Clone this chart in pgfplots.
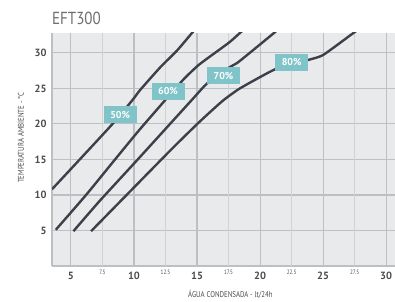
\documentclass[border=0pt]{standalone}
\usepackage{fontspec}
\setmainfont{PT Sans}
\newfontfamily\condfont[FakeStretch=0.82]{PT Sans}
\newfontfamily\titlefont[FakeStretch=0.86]{PT Sans}
\usepackage{pgfplots}
\pgfplotsset{compat=1.18}
\definecolor{bgc}{HTML}{E9EAEC}
\definecolor{gridmajor}{HTML}{BDBFC2}
\definecolor{gridminor}{HTML}{D0D2D4}
\definecolor{axc}{HTML}{BDBFC2}
\definecolor{tickc}{HTML}{4A4B4F}
\definecolor{curvec}{HTML}{3D404A}
\definecolor{labc}{HTML}{80C4C9}
\definecolor{titlec}{HTML}{6D6E71}
\begin{document}
\begin{tikzpicture}
\begin{axis}[
  scale only axis, width=343bp, height=233bp,
  xmin=3.5, xmax=30.7, ymin=0, ymax=32.8,
  axis background/.style={fill=bgc},
  axis x line*=bottom, axis y line*=left,
  axis line style={draw=axc, line width=1.3bp, -},
  xtick={5,10,15,20,25,30},
  xticklabels={5,10,15,20,25,30},
  extra x ticks={7.5,12.5,17.5,22.5,27.5},
  extra x tick labels={7.5,12.5,17.5,22.5,27.5},
  extra x tick style={grid style={draw=gridminor, line width=1bp},
     tick label style={font=\condfont\fontsize{6.3}{7}\selectfont, text=tickc, yshift=2.5bp}},
  ytick={5,10,15,20,25,30},
  yticklabels={5,10,15,20,25,30},
  grid=major, grid style={draw=gridmajor, line width=1.1bp},
  tick style={draw=none},
  major tick length=0pt,
  tick label style={font=\bfseries\fontsize{10.5}{12}\selectfont, text=tickc},
  xticklabel style={yshift=-3bp},
  yticklabel style={xshift=-2bp},
  xlabel={ÁGUA CONDENSADA - lt/24h},
  ylabel={TEMPERATURA AMBIENTE - °C},
  xlabel style={font=\condfont\fontsize{8.4}{9}\selectfont, text=tickc, at={(rel axis cs:0.52,0)}, anchor=base, yshift=-31bp},
  ylabel style={font=\condfont\fontsize{8.4}{9}\selectfont, text=tickc, at={(rel axis cs:0,0.55)}, anchor=base, yshift=28bp},
  clip=true,
]
\coordinate (o) at (rel axis cs:0,0);
\coordinate (p) at (rel axis cs:1,1);
% 50%
\addplot[curvec, line width=2.4bp, smooth, tension=0.35] coordinates {
 (3.5,10.8) (5.7,15) (8.3,20) (9.9,23.4) (10.5,24.8) (12.1,28) (13.4,30.3) (14.6,32.8) (14.9,33.4)};
% 60%
\addplot[curvec, line width=2.4bp, smooth, tension=0.35] coordinates {
 (3.8,5.1) (6.2,10) (8.5,15) (10.4,19.1) (12.5,23.4) (13.3,25) (14.0,26.4) (15.2,28.4) (17.5,31.4) (18.4,32.8) (18.8,33.4)};
% 70%
\addplot[curvec, line width=2.4bp, smooth, tension=0.35] coordinates {
 (5.2,4.9) (7.3,9.2) (10.3,15) (14.6,23.4) (15.8,25.7) (17.6,28.0) (18.2,28.6) (19.8,30.9) (21.1,32.8) (21.5,33.4)};
% 80%
\addplot[curvec, line width=2.4bp, smooth, tension=0.3] coordinates {
 (6.6,4.9) (12.9,16.3) (15.2,20.3) (17.0,23.2) (18.4,25.0) (21.2,27.7) (23.8,29.0) (25.0,29.7) (27.4,32.8) (27.9,33.4)};
\tikzset{lab/.style={fill=labc, text=white, font=\bfseries\fontsize{10}{10}\selectfont, minimum width=33bp, minimum height=17bp, inner sep=0pt}}
\node[lab] at (axis cs:8.9,21.3) {50\%};
\node[lab] at (axis cs:12.7,24.6) {60\%};
\node[lab] at (axis cs:17.1,26.8) {70\%};
\node[lab] at (axis cs:22.5,28.7) {80\%};
\end{axis}
\node[anchor=base west, text=titlec, font=\titlefont\fontsize{17.5}{18}\selectfont, inner sep=0pt] at ([yshift=8bp]p -| o) {EFT300};
\pgfresetboundingbox
\path[use as bounding box] ([xshift=-52bp,yshift=-36bp]o) rectangle ([yshift=33bp]p);
\end{tikzpicture}
\end{document}
